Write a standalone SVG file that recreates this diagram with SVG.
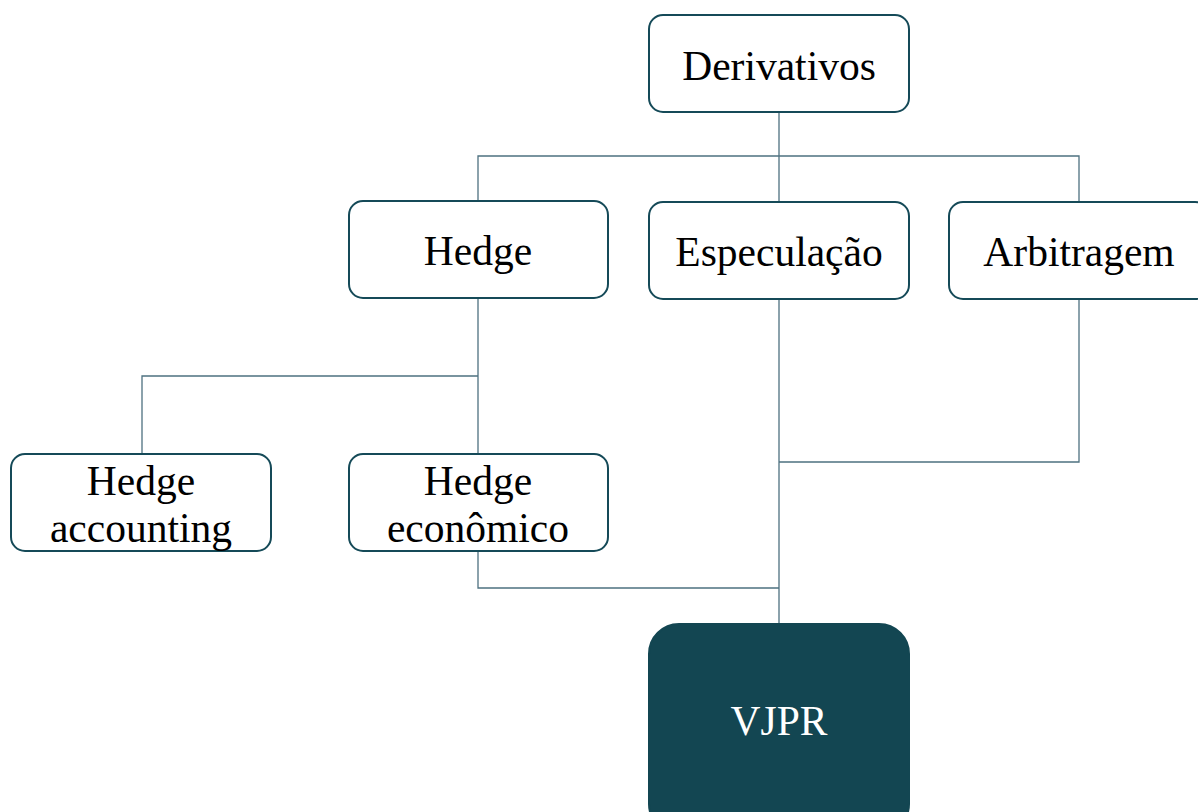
<svg xmlns="http://www.w3.org/2000/svg" width="1198" height="812" viewBox="0 0 1198 812">
<style>
.box{fill:#ffffff;stroke:#154a58;stroke-width:2}
.dark{fill:#134652;stroke:#134652;stroke-width:2}
.t{font-family:"Liberation Serif","Times New Roman",serif;font-size:41.5px;fill:#000;text-anchor:middle}
.w{fill:#ffffff}
.c{fill:none;stroke:#4e7180;stroke-width:1.3}
</style>
<rect width="1198" height="812" fill="#ffffff"/>
<g id="connectors">
<path class="c" d="M779 112V201M478 201V156H1079V201"/>
<path class="c" d="M478 298V454M478 376H142V454"/>
<path class="c" d="M779 299V624M1079 299V462H779"/>
<path class="c" d="M478 551V588H779"/>
</g>
<g id="derivativos"><rect class="box" x="649" y="15" width="260" height="97" rx="14"/><text class="t" x="779" y="80">Derivativos</text></g>
<g id="hedge"><rect class="box" x="349" y="201" width="259" height="97" rx="14"/><text class="t" x="478" y="265">Hedge</text></g>
<g id="especulacao"><rect class="box" x="649" y="202" width="260" height="97" rx="14"/><text class="t" x="779" y="266">Especulação</text></g>
<g id="arbitragem"><rect class="box" x="949" y="202" width="260" height="97" rx="14"/><text class="t" x="1079" y="266">Arbitragem</text></g>
<g id="hedge-accounting"><rect class="box" x="11" y="454" width="260" height="97" rx="14"/><text class="t" x="141" y="495">Hedge</text><text class="t" x="141" y="542">accounting</text></g>
<g id="hedge-economico"><rect class="box" x="349" y="454" width="259" height="97" rx="14"/><text class="t" x="478" y="495">Hedge</text><text class="t" x="478" y="542">econômico</text></g>
<g id="vjpr"><rect class="dark" x="649" y="624" width="260" height="210" rx="30"/><text class="t w" x="779" y="735">VJPR</text></g>
</svg>
